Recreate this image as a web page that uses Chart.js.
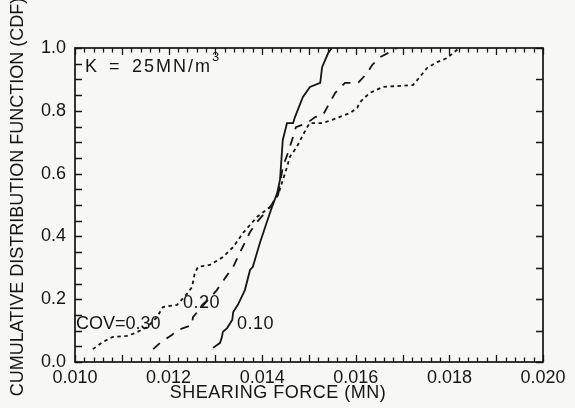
<!DOCTYPE html>
<html>
<head>
<meta charset="utf-8">
<script src="https://cdn.jsdelivr.net/npm/chart.js@4"></script>
<style>
  html, body { margin: 0; padding: 0; background: #f7f7f5; }
  #wrap { width: 575px; height: 408px; }
</style>
</head>
<body>
<div id="wrap"><canvas id="cdf" width="575" height="408"></canvas></div>
<script>
// empirical CDFs of shearing force, K = 25 MN/m3
const cov10X = [0.01295, 0.01310, 0.01314, 0.01316, 0.01325, 0.01336, 0.01338, 0.01348, 0.01363, 0.01374,
                0.01380, 0.01395, 0.01410, 0.01421, 0.01432, 0.01438, 0.01444, 0.01453, 0.01466, 0.01470,
                0.01487, 0.01502, 0.01524, 0.01528, 0.01541, 0.01549];
const cov10Y = [0.045, 0.061, 0.080, 0.096, 0.108, 0.134, 0.159, 0.182, 0.229, 0.293,
                0.303, 0.379, 0.446, 0.494, 0.538, 0.580, 0.707, 0.761, 0.761, 0.780,
                0.844, 0.876, 0.889, 0.939, 0.984, 1.0];

const cov20X = [0.01167, 0.01182, 0.01207, 0.01220, 0.01250, 0.01252, 0.01303, 0.01321, 0.01338, 0.01353,
                0.01374, 0.01389, 0.01417, 0.01434, 0.01444, 0.01455, 0.01466, 0.01472, 0.01496, 0.01513,
                0.01530, 0.01545, 0.01556, 0.01577, 0.01605, 0.01624, 0.01635, 0.01652, 0.01673, 0.01688];
const cov20Y = [0.041, 0.061, 0.086, 0.102, 0.118, 0.143, 0.229, 0.268, 0.303, 0.350,
                0.414, 0.446, 0.494, 0.532, 0.621, 0.666, 0.717, 0.748, 0.761, 0.780,
                0.787, 0.828, 0.857, 0.889, 0.889, 0.920, 0.946, 0.971, 0.987, 1.0];

const cov30X = [0.01038, 0.01060, 0.01081, 0.01111, 0.01128, 0.01154, 0.01175, 0.01188, 0.01218, 0.01241,
                0.01250, 0.01256, 0.01263, 0.01288, 0.01316, 0.01338, 0.01359, 0.01389, 0.01417, 0.01434,
                0.01453, 0.01459, 0.01474, 0.01485, 0.01496, 0.01502, 0.01530, 0.01560, 0.01588, 0.01603,
                0.01609, 0.01630, 0.01658, 0.01722, 0.01737, 0.01752, 0.01774, 0.01795, 0.01808, 0.01821];
const cov30Y = [0.041, 0.064, 0.080, 0.083, 0.092, 0.111, 0.143, 0.175, 0.182, 0.220,
                0.239, 0.283, 0.303, 0.309, 0.334, 0.366, 0.411, 0.462, 0.494, 0.532,
                0.621, 0.653, 0.685, 0.717, 0.748, 0.761, 0.761, 0.777, 0.793, 0.809,
                0.828, 0.857, 0.876, 0.882, 0.908, 0.936, 0.955, 0.968, 0.984, 1.0];

const xTicks = [0.010, 0.012, 0.014, 0.016, 0.018, 0.020];
const yTicks = [0.0, 0.2, 0.4, 0.6, 0.8, 1.0];

const INK = '#151515';
const FONT = '"Liberation Sans", Arial, sans-serif';

const toPoints = (xs, ys) => xs.map((x, i) => ({ x: x, y: ys[i] }));

// frame, inward ticks, axis titles and curve labels
const plotFurniture = {
    id: 'plotFurniture',
    beforeDraw(chart) {
        const ctx = chart.ctx;
        ctx.save();
        ctx.fillStyle = '#f7f7f5';
        ctx.fillRect(0, 0, chart.width, chart.height);
        ctx.restore();
    },
    afterDraw(chart) {
        const { ctx, chartArea: a, scales: { x, y } } = chart;
        ctx.save();
        ctx.strokeStyle = INK;
        ctx.lineWidth = 1.7;
        ctx.strokeRect(a.left, a.top, a.right - a.left, a.bottom - a.top);

        ctx.lineWidth = 1.3;
        ctx.beginPath();
        for (let i = 0; i <= 50; i++) {
            const px = Math.round(x.getPixelForValue(0.010 + i * 0.0002)) + 0.5;
            const len = i % 5 === 0 ? 7 : 4.5;
            ctx.moveTo(px, a.bottom); ctx.lineTo(px, a.bottom - len);
            ctx.moveTo(px, a.top); ctx.lineTo(px, a.top + len);
        }
        for (let i = 0; i <= 20; i++) {
            const py = Math.round(y.getPixelForValue(i * 0.05)) + 0.5;
            ctx.moveTo(a.left, py); ctx.lineTo(a.left + 7, py);
            if (i % 2 === 0) {
                ctx.moveTo(a.right, py); ctx.lineTo(a.right - 7, py);
            }
        }
        ctx.stroke();

        ctx.fillStyle = INK;
        ctx.textBaseline = 'alphabetic';
        ctx.textAlign = 'left';
        ctx.font = '18px ' + FONT;
        ctx.fillText('K', 85, 72);
        ctx.fillText('=', 109, 72);
        ctx.letterSpacing = '2px';
        ctx.fillText('25MN/m', 132, 72);
        ctx.letterSpacing = '0px';
        ctx.font = '13px ' + FONT;
        ctx.fillText('3', 212, 61);

        ctx.font = '18px ' + FONT;
        ctx.textBaseline = 'middle';
        ctx.fillText('COV=0.30', 76, 324);
        ctx.letterSpacing = '0.5px';
        ctx.fillText('0.20', 183, 303);
        ctx.fillText('0.10', 237, 324);

        // axis titles
        ctx.letterSpacing = '0.5px';
        ctx.textAlign = 'center';
        ctx.fillText('SHEARING FORCE (MN)', 278, 393);
        ctx.letterSpacing = '0px';
        ctx.translate(18, 197);
        ctx.rotate(-Math.PI / 2);
        ctx.fillText('CUMULATIVE DISTRIBUTION FUNCTION (CDF)', 0, 0);
        ctx.restore();
    }
};

new Chart(document.getElementById('cdf'), {
    type: 'line',
    data: {
        datasets: [
            {
                label: 'COV=0.10',
                data: toPoints(cov10X, cov10Y),
                borderColor: INK,
                borderWidth: 1.8
            },
            {
                label: 'COV=0.20',
                data: toPoints(cov20X, cov20Y),
                borderColor: INK,
                borderWidth: 1.8,
                borderDash: [9, 8]
            },
            {
                label: 'COV=0.30',
                data: toPoints(cov30X, cov30Y),
                borderColor: INK,
                borderWidth: 1.8,
                borderDash: [3.5, 3.5]
            }
        ]
    },
    options: {
        responsive: false,
        animation: false,
        events: [],
        elements: { point: { radius: 0 }, line: { tension: 0 } },
        layout: { padding: { top: 48, right: 32, left: 0, bottom: 0 } },
        plugins: {
            legend: { display: false },
            tooltip: { enabled: false }
        },
        scales: {
            x: {
                type: 'linear',
                min: 0.010,
                max: 0.020,
                afterFit: s => { s.height = 46; },
                afterBuildTicks: s => { s.ticks = xTicks.map(v => ({ value: v })); },
                grid: { display: false, drawTicks: false },
                border: { display: false },
                ticks: {
                    padding: 5,
                    color: INK,
                    font: { family: FONT, size: 18 },
                    maxRotation: 0,
                    callback: v => v.toFixed(3)
                }
            },
            y: {
                type: 'linear',
                min: 0,
                max: 1,
                afterFit: s => { s.width = 75; },
                afterBuildTicks: s => { s.ticks = yTicks.map(v => ({ value: v })); },
                grid: { display: false, drawTicks: false },
                border: { display: false },
                ticks: {
                    padding: 9,
                    color: INK,
                    font: { family: FONT, size: 18 },
                    callback: v => v.toFixed(1)
                }
            }
        }
    },
    plugins: [plotFurniture]
});
</script>
</body>
</html>
